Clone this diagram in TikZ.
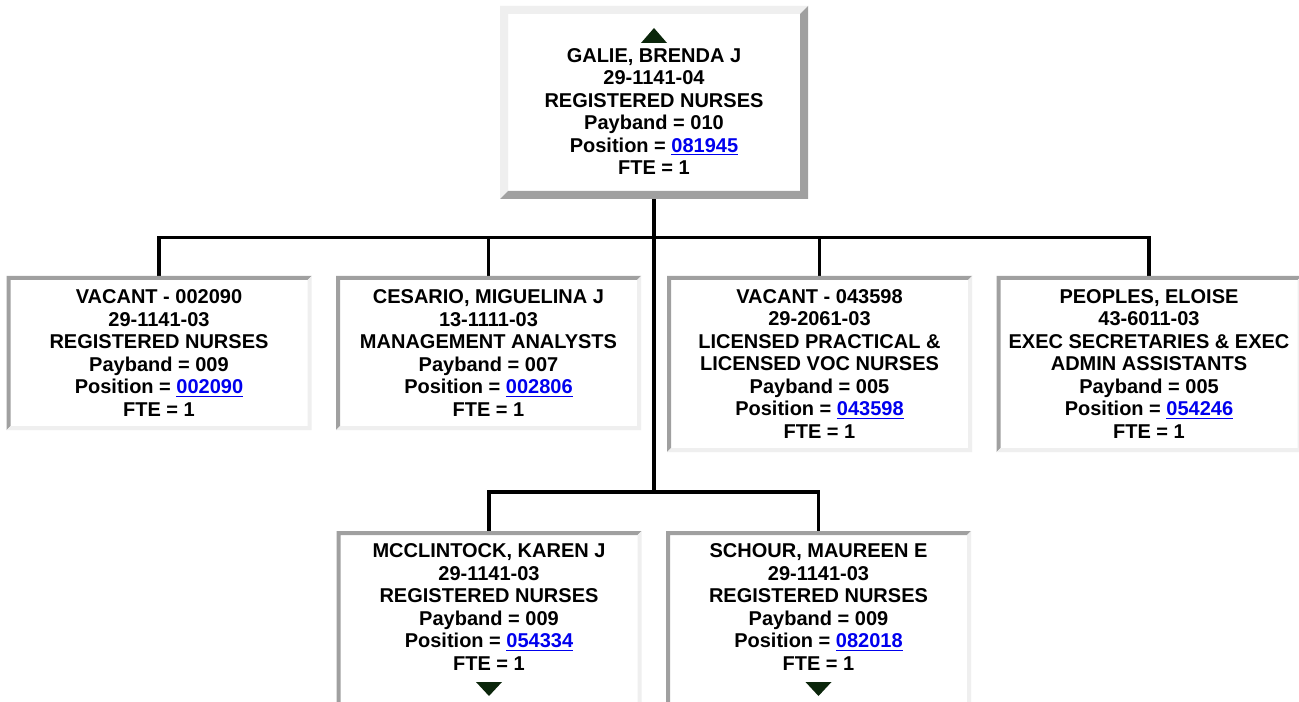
\documentclass[tikz,border=0pt]{standalone}
\usepackage{fontspec}
\setmainfont{Liberation Sans}
\usetikzlibrary{calc}
\definecolor{bevellight}{HTML}{EFEFEF}
\definecolor{bevelshade}{HTML}{A0A0A0}
\definecolor{linkblue}{HTML}{0000EE}
\definecolor{pointer}{HTML}{0B260B}
\newcommand\poslink[1]{\textcolor{linkblue}{\underline{#1}}}
% node, border width, top/left colour, bottom/right colour
\newcommand\bevel[4]{%
  \fill[#3](#1.north west)--(#1.north east)--($(#1.north east)+(-#2,#2)$)--($(#1.north west)+(#2,#2)$)--($(#1.south west)+(#2,-#2)$)--(#1.south west)--cycle;
  \fill[#4](#1.south east)--(#1.south west)--($(#1.south west)+(#2,-#2)$)--($(#1.south east)+(-#2,-#2)$)--($(#1.north east)+(-#2,#2)$)--(#1.north east)--cycle;}
\tikzset{every node/.style={font=\fontsize{15pt}{16.875pt}\selectfont\bfseries},
  card/.style={rectangle,align=center,inner sep=0pt,outer sep=0pt,minimum width=228.75pt},
  tie/.style={draw=black,line width=2.6pt},
  pointerhead/.style={fill=pointer}}
\begin{document}
\begin{tikzpicture}[x=0.75pt,y=-0.75pt]
\useasboundingbox(0,0)rectangle(1299,702);\fill[white](0,0)rectangle(1299,702);
% supervisor
\node[card,minimum width=231pt,minimum height=144.75pt](galie)at(654,102.5){\rule{0pt}{7.5pt}\\GALIE, BRENDA J\\29-1141-04\\REGISTERED NURSES\\Payband = 010\\Position = \poslink{081945}\\FTE = 1};
% direct reports
\node[card,minimum height=115.5pt](vacant1)at(159,353){VACANT - 002090\\29-1141-03\\REGISTERED NURSES\\Payband = 009\\Position = \poslink{002090}\\FTE = 1};
\node[card,minimum height=115.5pt](cesario)at(488.5,353){CESARIO, MIGUELINA J\\13-1111-03\\MANAGEMENT ANALYSTS\\Payband = 007\\Position = \poslink{002806}\\FTE = 1};
\node[card,minimum height=132pt](vacant2)at(819.5,364){VACANT - 043598\\29-2061-03\\LICENSED PRACTICAL \&\\LICENSED VOC NURSES\\Payband = 005\\Position = \poslink{043598}\\FTE = 1};
\node[card,minimum height=132pt](peoples)at(1149,364){PEOPLES, ELOISE\\43-6011-03\\EXEC SECRETARIES \& EXEC\\ADMIN ASSISTANTS\\Payband = 005\\Position = \poslink{054246}\\FTE = 1};
\node[card,minimum height=157.5pt](mcclintock)at(489,636){MCCLINTOCK, KAREN J\\29-1141-03\\REGISTERED NURSES\\Payband = 009\\Position = \poslink{054334}\\FTE = 1\\\rule[-26.5pt]{0pt}{0pt}};
\node[card,minimum height=157.5pt](schour)at(818.5,636){SCHOUR, MAUREEN E\\29-1141-03\\REGISTERED NURSES\\Payband = 009\\Position = \poslink{082018}\\FTE = 1\\\rule[-26.5pt]{0pt}{0pt}};
% tree lines
\coordinate(upper)at(654,237.5);\coordinate(lower)at(654,492);
\draw[tie](galie.south)--(lower);
\draw[tie](vacant1.north)|-(upper)-|(peoples.north);
\draw[tie](upper)-|(cesario.north);\draw[tie](upper)-|(vacant2.north);
\draw[tie](mcclintock.north)|-(lower)-|(schour.north);
% borders
\bevel{galie}{8}{bevellight}{bevelshade}
\foreach \n in {vacant1,cesario,vacant2,peoples,mcclintock,schour}{\bevel{\n}{4}{bevelshade}{bevellight}}
% up / down pointers
\fill[pointerhead]($(galie.north)+(0,22)$)--++(13,15)--++(-26,0)--cycle;
\foreach \n in {mcclintock,schour}{\fill[pointerhead]($(\n.north)+(0,165)$)--++(13,-14)--++(-26,0)--cycle;}
\end{tikzpicture}
\end{document}
